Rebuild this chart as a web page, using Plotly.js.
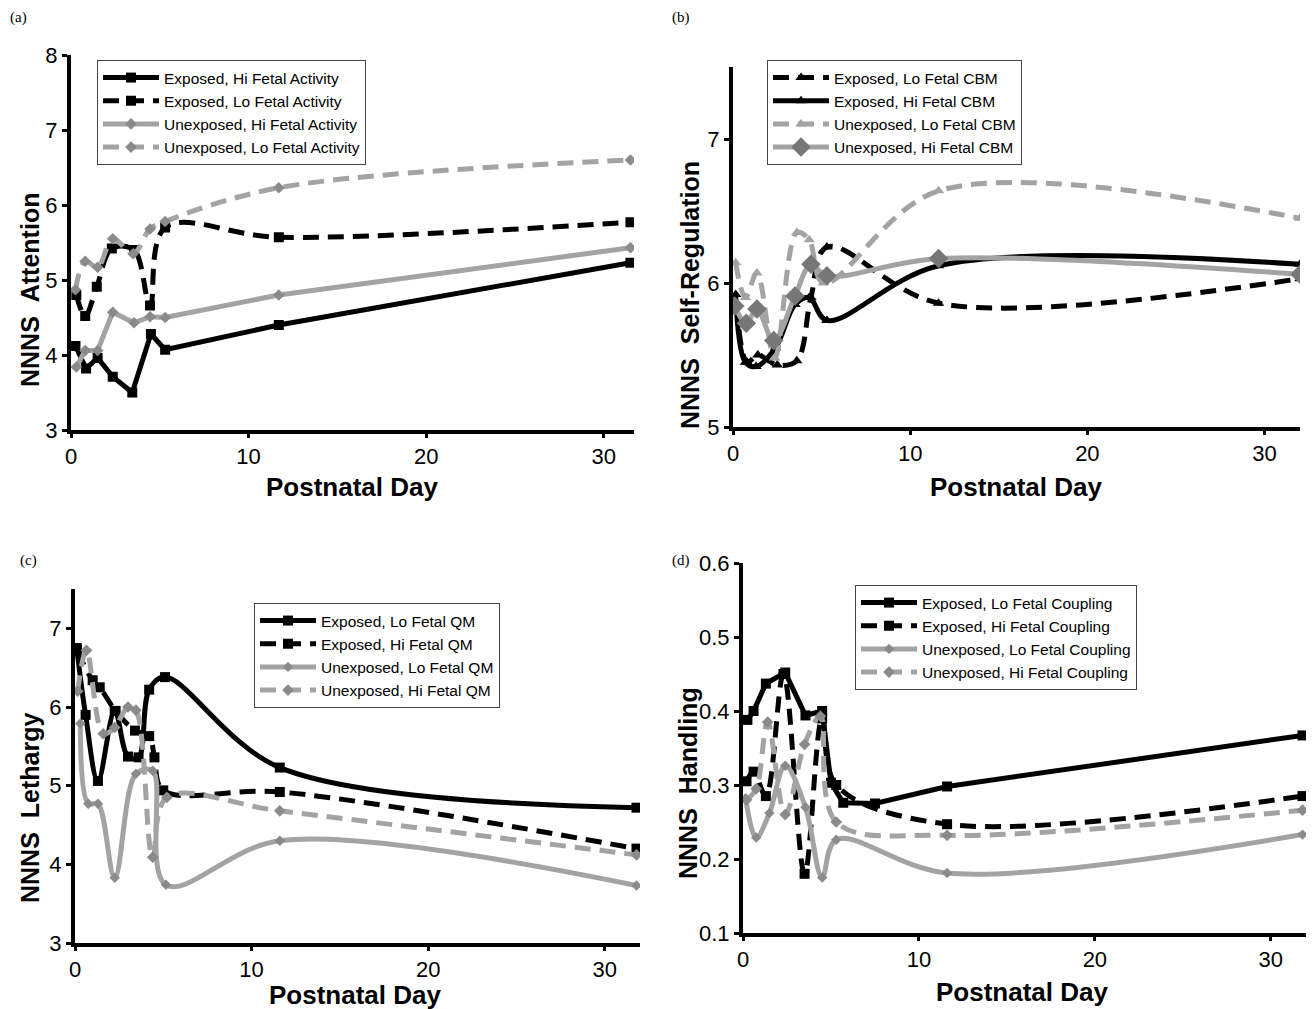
<!DOCTYPE html>
<html>
<head>
<meta charset="utf-8">
<script src="https://cdn.plot.ly/plotly-3.0.1.min.js"></script>
<style>html,body{margin:0;padding:0;background:#fff}#chart{width:1314px;height:1009px}</style>
</head>
<body>
<div id="chart"></div>
<script>
// ---------- Panel (a): NNNS Attention ----------
const a_expHi_day = [0.25, 0.85, 1.5, 2.35, 3.45, 4.5, 5.3, 11.7, 31.5];
const a_expHi_val = [4.12, 3.82, 3.96, 3.71, 3.5, 4.28, 4.07, 4.4, 5.23];
const a_expLo_day = [0.3, 0.8, 1.45, 2.3, 3.55, 4.45, 5.3, 11.7, 31.5];
const a_expLo_val = [4.8, 4.52, 4.91, 5.42, 5.4, 4.66, 5.7, 5.57, 5.77];
const a_unHi_day = [0.3, 0.8, 1.5, 2.35, 3.55, 4.45, 5.3, 11.7, 31.5];
const a_unHi_val = [3.84, 4.06, 4.06, 4.57, 4.43, 4.51, 4.5, 4.8, 5.43];
const a_unLo_day = [0.25, 0.8, 1.5, 2.35, 3.5, 4.45, 5.3, 11.7, 31.5];
const a_unLo_val = [4.87, 5.25, 5.17, 5.55, 5.35, 5.68, 5.78, 6.23, 6.6];
const a_names = ["Exposed, Hi Fetal Activity", "Exposed, Lo Fetal Activity", "Unexposed, Hi Fetal Activity", "Unexposed, Lo Fetal Activity"];

// ---------- Panel (b): NNNS Self-Regulation ----------
const b_expLo_day = [0.2, 0.8, 1.4, 2.5, 3.6, 4.4, 5.3, 11.6, 32];
const b_expLo_val = [5.85, 5.45, 5.5, 5.43, 5.46, 5.9, 6.25, 5.86, 6.03];
const b_expHi_day = [0.15, 0.7, 1.3, 2.4, 3.5, 4.3, 5.3, 11.6, 32];
const b_expHi_val = [5.92, 5.45, 5.42, 5.55, 5.85, 5.9, 5.74, 6.12, 6.13];
const b_unLo_day = [0.15, 0.7, 1.35, 2.35, 3.6, 4.3, 5.1, 11.6, 32];
const b_unLo_val = [6.14, 5.9, 6.07, 5.48, 6.35, 6.3, 6.0, 6.64, 6.45];
const b_unHi_day = [0.1, 0.75, 1.35, 2.3, 3.5, 4.4, 5.3, 11.6, 32];
const b_unHi_val = [5.84, 5.72, 5.82, 5.6, 5.91, 6.13, 6.05, 6.17, 6.06];
const b_names = ["Exposed, Lo Fetal CBM", "Exposed, Hi Fetal CBM", "Unexposed, Lo Fetal CBM", "Unexposed, Hi Fetal CBM"];

// ---------- Panel (c): NNNS Lethargy ----------
const c_expLo_day = [0.1, 0.6, 1.3, 2.25, 3.0, 3.6, 4.2, 5.1, 11.6, 31.8];
const c_expLo_val = [6.75, 5.9, 5.06, 5.95, 5.37, 5.36, 6.22, 6.38, 5.23, 4.72];
const c_expHi_day = [0.1, 1.0, 1.4, 2.3, 3.4, 4.2, 4.5, 5.0, 11.6, 31.8];
const c_expHi_val = [6.72, 6.34, 6.25, 5.95, 5.7, 5.63, 5.36, 4.94, 4.92, 4.2];
const c_unLo_day = [0.3, 0.75, 1.3, 2.25, 3.45, 4.4, 5.15, 11.6, 31.8];
const c_unLo_val = [5.79, 4.77, 4.77, 3.83, 5.15, 5.19, 3.74, 4.3, 3.73];
const c_unHi_day = [0.15, 0.65, 1.6, 2.25, 3.0, 3.45, 4.4, 5.2, 11.6, 31.8];
const c_unHi_val = [6.2, 6.72, 5.66, 5.74, 6.0, 5.96, 4.09, 4.85, 4.68, 4.12];
const c_names = ["Exposed, Lo Fetal QM", "Exposed, Hi Fetal QM", "Unexposed, Lo Fetal QM", "Unexposed, Hi Fetal QM"];

// ---------- Panel (d): NNNS Handling ----------
const d_expLo_day = [0.25, 0.6, 1.3, 2.4, 3.55, 4.5, 5.0, 5.7, 7.5, 11.6, 31.8];
const d_expLo_val = [0.388, 0.4, 0.437, 0.452, 0.394, 0.4, 0.303, 0.276, 0.275, 0.298, 0.367];
const d_expHi_day = [0.2, 0.6, 1.3, 2.3, 3.5, 4.5, 5.3, 11.6, 31.8];
const d_expHi_val = [0.305, 0.318, 0.285, 0.45, 0.18, 0.39, 0.3, 0.247, 0.285];
const d_unLo_day = [0.15, 0.75, 1.5, 2.4, 3.55, 4.5, 5.3, 11.6, 31.8];
const d_unLo_val = [0.282, 0.229, 0.262, 0.326, 0.27, 0.175, 0.226, 0.181, 0.233];
const d_unHi_day = [0.2, 0.75, 1.4, 2.4, 3.5, 4.4, 5.3, 11.6, 31.8];
const d_unHi_val = [0.28, 0.295, 0.385, 0.26, 0.355, 0.393, 0.25, 0.232, 0.266];
const d_names = ["Exposed, Lo Fetal Coupling", "Exposed, Hi Fetal Coupling", "Unexposed, Lo Fetal Coupling", "Unexposed, Hi Fetal Coupling"];

const SP = "\u00a0\u00a0";
const yTitles = ["NNNS" + SP + "Attention", "NNNS" + SP + "Self-Regulation", "NNNS" + SP + "Lethargy", "NNNS" + SP + "Handling"];
const xTitle = "Postnatal Day";
const panelLabels = ["(a)", "(b)", "(c)", "(d)"];

const BLACK = "#000000", GREY = "#a3a3a3", MGREY = "#8a8a8a", DGREY = "#777777";
const DASH = "16px,9px";
const W = 1314, H = 1009;

function tr(x, y, name, ax, leg, style) {
  return {
    x: x, y: y, name: name, type: "scatter", mode: "lines+markers",
    xaxis: ax[0], yaxis: ax[1], legend: leg,
    line: {color: style.color, width: 5, dash: style.dash || "solid", shape: style.shape || "spline", smoothing: 1},
    marker: {symbol: style.symbol, size: style.size, color: style.mcolor || style.color, line: {width: 0}}
  };
}

const axA = ["x", "y"], axB = ["x2", "y2"], axC = ["x3", "y3"], axD = ["x4", "y4"];
const data = [
  tr(a_expHi_day, a_expHi_val, a_names[0], axA, "legend", {color: BLACK, symbol: "square", size: 10, shape: "linear"}),
  tr(a_expLo_day, a_expLo_val, a_names[1], axA, "legend", {color: BLACK, symbol: "square", size: 10, dash: DASH}),
  tr(a_unHi_day, a_unHi_val, a_names[2], axA, "legend", {color: GREY, mcolor: MGREY, symbol: "diamond", size: 9, shape: "linear"}),
  tr(a_unLo_day, a_unLo_val, a_names[3], axA, "legend", {color: GREY, mcolor: MGREY, symbol: "diamond", size: 9, dash: DASH}),

  tr(b_expLo_day, b_expLo_val, b_names[0], axB, "legend2", {color: BLACK, symbol: "triangle-up", size: 10, dash: DASH}),
  tr(b_expHi_day, b_expHi_val, b_names[1], axB, "legend2", {color: BLACK, symbol: "triangle-up", size: 10}),
  tr(b_unLo_day, b_unLo_val, b_names[2], axB, "legend2", {color: GREY, symbol: "triangle-up", size: 10, dash: DASH}),
  tr(b_unHi_day, b_unHi_val, b_names[3], axB, "legend2", {color: GREY, mcolor: DGREY, symbol: "diamond", size: 15}),

  tr(c_expLo_day, c_expLo_val, c_names[0], axC, "legend3", {color: BLACK, symbol: "square", size: 10}),
  tr(c_expHi_day, c_expHi_val, c_names[1], axC, "legend3", {color: BLACK, symbol: "square", size: 10, dash: DASH}),
  tr(c_unLo_day, c_unLo_val, c_names[2], axC, "legend3", {color: GREY, mcolor: MGREY, symbol: "diamond", size: 8}),
  tr(c_unHi_day, c_unHi_val, c_names[3], axC, "legend3", {color: GREY, mcolor: MGREY, symbol: "diamond", size: 9, dash: DASH}),

  tr(d_expLo_day, d_expLo_val, d_names[0], axD, "legend4", {color: BLACK, symbol: "square", size: 10, shape: "linear"}),
  tr(d_expHi_day, d_expHi_val, d_names[1], axD, "legend4", {color: BLACK, symbol: "square", size: 10, dash: DASH}),
  tr(d_unLo_day, d_unLo_val, d_names[2], axD, "legend4", {color: GREY, mcolor: MGREY, symbol: "diamond", size: 8}),
  tr(d_unHi_day, d_unHi_val, d_names[3], axD, "legend4", {color: GREY, mcolor: MGREY, symbol: "diamond", size: 9, dash: DASH})
];

const FONT = "Liberation Sans, Arial, sans-serif";
function xax(px0, px1, xmax, anchor) {
  return {
    domain: [px0 / W, px1 / W], anchor: anchor, range: [0, xmax], dtick: 10, tick0: 0,
    showline: true, linecolor: BLACK, linewidth: 4, ticks: "outside", ticklen: 4, tickwidth: 3, tickcolor: BLACK,
    showgrid: false, zeroline: false, tickfont: {family: FONT, size: 22, color: BLACK}
  };
}
function yax(py0, py1, range, dtick, anchor) {
  return {
    domain: [1 - py1 / H, 1 - py0 / H], anchor: anchor, range: range, dtick: dtick,
    showline: true, linecolor: BLACK, linewidth: 4, ticks: "outside", ticklen: 5, tickwidth: 3, tickcolor: BLACK,
    showgrid: false, zeroline: false, tickfont: {family: FONT, size: 22, color: BLACK}
  };
}
function leg(px, py) {
  return {x: px / W, y: 1 - py / H, xref: "paper", yref: "paper", xanchor: "left", yanchor: "top",
    bgcolor: "rgba(255,255,255,0)", bordercolor: "#444", borderwidth: 1,
    font: {family: "Liberation Sans, Arial", size: 15.5, color: BLACK},
    itemwidth: 56, tracegroupgap: 0};
}

const ann = [];
panelLabels.forEach((t, i) => ann.push({
  text: t, xref: "paper", yref: "paper", x: [8, 670, 18, 670][i] / W, y: 1 - [17, 17, 560, 560][i] / H,
  xanchor: "left", yanchor: "middle", showarrow: false,
  font: {family: "Liberation Serif, Times New Roman, serif", size: 15, color: BLACK}
}));
const yTitlePos = [[30, 290], [690, 295], [30, 808], [688, 783]];
yTitles.forEach((t, i) => ann.push({
  text: "<b>" + t + "</b>", xref: "paper", yref: "paper", x: yTitlePos[i][0] / W, y: 1 - yTitlePos[i][1] / H,
  xanchor: "center", yanchor: "middle", textangle: -90, showarrow: false,
  font: {family: FONT, size: 25, color: BLACK}
}));
const xTitlePos = [[352, 487], [1016, 487], [355, 995], [1022, 992]];
xTitlePos.forEach((p) => ann.push({
  text: "<b>" + xTitle + "</b>", xref: "paper", yref: "paper", x: p[0] / W, y: 1 - p[1] / H,
  xanchor: "center", yanchor: "middle", showarrow: false,
  font: {family: FONT, size: 26, color: BLACK}
}));

const layout = {
  width: W, height: H, margin: {l: 0, r: 0, t: 0, b: 0},
  paper_bgcolor: "#fff", plot_bgcolor: "#fff", showlegend: true,
  xaxis: xax(71, 634, 31.7, "y"), yaxis: yax(55, 430, [3, 8], 1, "x"),
  xaxis2: xax(733, 1300, 32, "y2"), yaxis2: yax(67, 427, [5, 7.5], 1, "x2"),
  xaxis3: xax(75, 640, 32, "y3"), yaxis3: yax(589, 943, [3, 7.5], 1, "x3"),
  xaxis4: xax(743, 1306, 32, "y4"), yaxis4: yax(563, 933, [0.1, 0.6], 0.1, "x4"),
  legend: leg(97, 60), legend2: leg(767, 60), legend3: leg(254, 603), legend4: leg(855, 585),
  annotations: ann
};

Plotly.newPlot("chart", data, layout, {staticPlot: true, displayModeBar: false});
</script>
</body>
</html>
